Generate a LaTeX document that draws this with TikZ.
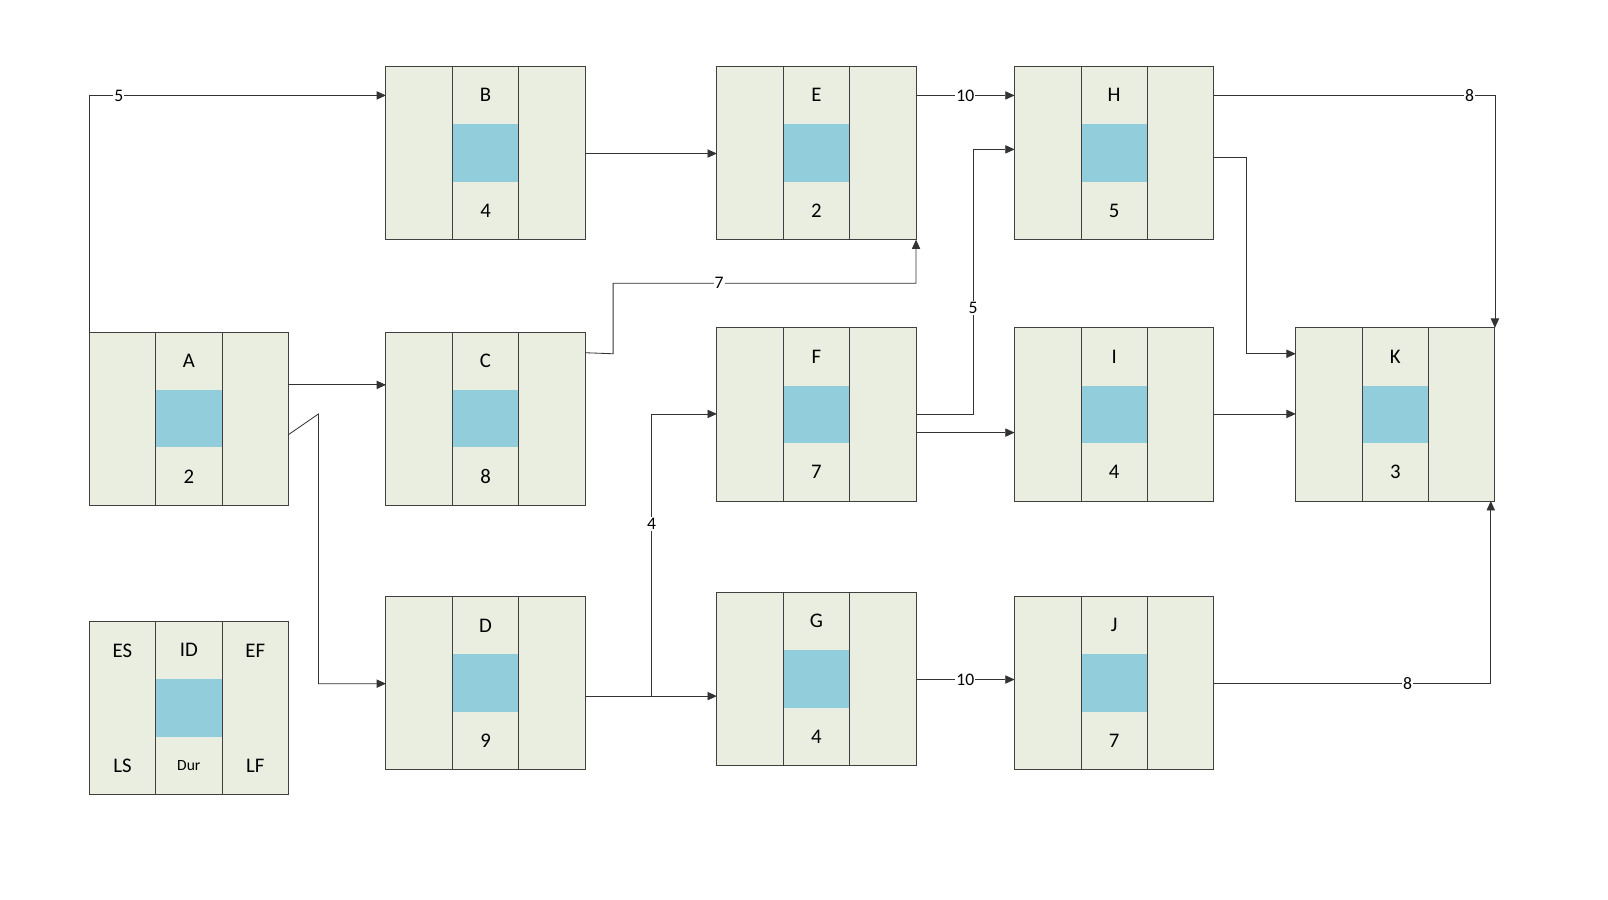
\documentclass[tikz,border=0pt]{standalone}
\usepackage{fontspec}
\setmainfont{Carlito}
\usetikzlibrary{arrows.meta}
\definecolor{cellbg}{HTML}{E9EEE0}
\definecolor{midbg}{HTML}{92CDDC}
\definecolor{edge}{HTML}{404040}
\tikzset{
  conn/.style={draw=black!80,line width=0.8pt,-{Triangle[length=9pt,width=8pt]}},
  lab/.style={fill=white,inner sep=1pt,font=\fontsize{17}{17}\selectfont},
  txt/.style={font=\fontsize{20}{20}\selectfont},
}
\newcommand{\actbox}[5]{% name, x, y(top), top label, bottom label
  \begin{scope}[shift={(#2,#3)}]
    \fill[cellbg] (0,0) rectangle (192,167);
    \fill[midbg] (64,55.7) rectangle (128,111.3);
    \draw[edge,line width=0.9pt] (0,0) grid[xstep=64,ystep=55.667] (192,167);
    \draw[edge,line width=0.9pt] (0,0) rectangle (192,167);
    \node[txt] (#1t) at (96,27.8) {#4};
    \node[txt] (#1b) at (96,139.2) {#5};
  \end{scope}
  \coordinate (#1) at (#2+96,#3+83.5);
}
\begin{document}
\begin{tikzpicture}[x=1pt,y=-1pt]
\useasboundingbox (0,0) rectangle (1550,867);
\actbox{A}{86}{320}{A}{2}
\actbox{B}{372}{64}{B}{4}
\actbox{C}{372}{320}{C}{8}
\actbox{D}{372}{575}{D}{9}
\actbox{E}{691}{64}{E}{2}
\actbox{F}{691}{316}{F}{7}
\actbox{G}{691}{571}{G}{4}
\actbox{H}{978}{64}{H}{5}
\actbox{I}{978}{316}{I}{4}
\actbox{J}{978}{575}{J}{7}
\actbox{K}{1249}{316}{K}{3}
\actbox{L}{86}{599}{ID}{\fontsize{15}{15}\selectfont Dur}
\node[txt] (les) at (118,627) {ES};
\node[txt] (lef) at (246,627) {EF};
\node[txt] (lls) at (118,738) {LS};
\node[txt] (llf) at (246,738) {LF};
% connectors
\draw[conn] ([shift={(-96,-83.5)}]A) -- (86,92) -- node[lab,pos=0.1]{5} ([shift={(-96,-55.5)}]B);
\draw[conn] ([shift={(96,-32.5)}]A) -- ([shift={(-96,-32.5)}]C);
\draw[conn] ([shift={(96,15.5)}]A) -- (307,399) -- (307,659) -- ([shift={(-96,0.5)}]D);
\draw[conn] ([shift={(96,0.5)}]B) -- ([shift={(-96,0.5)}]E);
\draw[conn] ([shift={(96,-63.5)}]C) -- (591,341) -- (591,273) -- node[lab,pos=0.35]{7} (883,273) -- ([shift={(96,83.5)}]E);
\draw[conn] ([shift={(96,-55.5)}]E) -- node[lab]{10} ([shift={(-96,-55.5)}]H);
\draw[conn] ([shift={(96,-55.5)}]H) -- node[lab,pos=0.91]{8} (1441,92) -- ([shift={(96,-83.5)}]K);
\draw[conn] ([shift={(96,4.5)}]H) -- (1201,152) -- (1201,341) -- ([shift={(-96,-58.5)}]K);
\draw[conn] ([shift={(96,-0.5)}]F) -- (938,399) -- node[lab,pos=0.4]{5} (938,144) -- ([shift={(-96,-3.5)}]H);
\draw[conn] ([shift={(96,17.5)}]F) -- ([shift={(-96,17.5)}]I);
\draw[conn] ([shift={(96,-0.5)}]I) -- ([shift={(-96,-0.5)}]K);
\draw[conn] ([shift={(96,12.5)}]D) -- ([shift={(-96,16.5)}]G);
\coordinate (dj) at (628,671);
\draw[conn] (dj) -- node[lab,pos=0.61]{4} (628,399) -- ([shift={(-96,-0.5)}]F);
\draw[conn] ([shift={(96,0.5)}]G) -- node[lab]{10} ([shift={(-96,-3.5)}]J);
\draw[conn] ([shift={(96,0.5)}]J) -- node[lab,pos=0.7]{8} (1437,659) -- ([shift={(92,83.5)}]K);
\end{tikzpicture}
\end{document}
